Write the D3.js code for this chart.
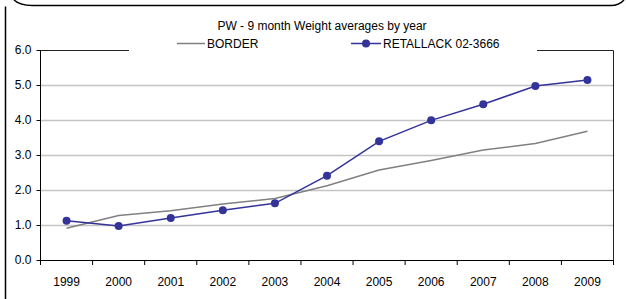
<!DOCTYPE html>
<html><head><meta charset="utf-8">
<script src="https://cdn.jsdelivr.net/npm/d3@7"></script>
<style>body{margin:0;background:#fff}svg{display:block}text{font-family:"Liberation Sans",Arial,sans-serif}</style>
</head><body>
<svg id="c" width="626" height="299"></svg>
<script>
const years = ["1999","2000","2001","2002","2003","2004","2005","2006","2007","2008","2009"];
const border = [0.91,1.27,1.41,1.6,1.76,2.12,2.57,2.84,3.14,3.33,3.68];
const retallack = [1.12,0.97,1.2,1.42,1.62,2.41,3.39,3.99,4.45,4.97,5.14];
const yTicks = [0,1,2,3,4,5,6];
const title = "PW - 9 month Weight averages by year";
const seriesNames = ["BORDER","RETALLACK 02-3666"];

const svg = d3.select("#c");
// outer frame pieces
svg.append("path").attr("d","M5.5,299 V6.5").attr("stroke","#000").attr("stroke-width",1.5).attr("fill","none");
svg.append("path").attr("d","M14,0 Q20,5.5 32,5.5 H611 Q619,5.5 624,0").attr("stroke","#000").attr("stroke-width",1.5).attr("fill","none");

const L=40.5,R=613.5,T=50,B=260;
const x = d3.scaleBand().domain(years).range([L,R]);
const y = d3.scaleLinear().domain([0,6]).range([B,T]);

// gridlines
svg.append("g").selectAll("line").data(yTicks.filter(d=>d>0&&d<6)).join("line")
  .attr("x1",L).attr("x2",R).attr("y1",d=>y(d)+0.5).attr("y2",d=>y(d)+0.5)
  .attr("stroke","#c4c4c4").attr("stroke-width",1.5);

// plot border top & right
svg.append("path").attr("d",`M${L},${T+0.5} H${R} V${B}`).attr("stroke","#222").attr("stroke-width",1).attr("fill","none");

// y axis
const ya = svg.append("g").attr("transform",`translate(${L},0)`)
  .call(d3.axisLeft(y).tickValues(yTicks).tickFormat(d3.format(".1f")).tickSize(4).tickPadding(5));
ya.select(".domain").attr("stroke","#000").attr("d",`M0,${T}V${B}`);
ya.selectAll("line").attr("stroke","#000");
ya.selectAll("text").attr("font-size",12).attr("fill","#000").attr("font-family","Liberation Sans, Arial");

// x axis
const xa = svg.append("g").attr("transform",`translate(0,${B+0.5})`)
  .call(d3.axisBottom(x).tickSize(0).tickPadding(17));
xa.select(".domain").attr("stroke","#000").attr("d",`M${L},0H${R}`);
xa.selectAll("text").attr("font-size",12).attr("fill","#000").attr("font-family","Liberation Sans, Arial");
svg.append("g").selectAll("line").data(years.map((d,i)=>i).concat([years.length])).join("line")
  .attr("x1",i=>L+x.step()*i).attr("x2",i=>L+x.step()*i).attr("y1",B).attr("y2",B+5)
  .attr("stroke","#000");

const cx = d=>x(d)+x.bandwidth()/2;
const line = d3.line().x((d,i)=>cx(years[i])).y(d=>y(d));
svg.append("path").datum(border).attr("d",line).attr("fill","none").attr("stroke","#808080").attr("stroke-width",1.5);
svg.append("path").datum(retallack).attr("d",line).attr("fill","none").attr("stroke","#333399").attr("stroke-width",1.5);
svg.append("g").selectAll("circle").data(retallack).join("circle")
  .attr("cx",(d,i)=>cx(years[i])).attr("cy",d=>y(d)).attr("r",4).attr("fill","#333399");

// legend box (white) covering top border
svg.append("rect").attr("x",129).attr("y",12).attr("width",408).attr("height",42).attr("fill","#fff");
svg.append("text").attr("x",322).attr("y",30).attr("text-anchor","middle").attr("font-size",12).text(title);
svg.append("line").attr("x1",177).attr("x2",205).attr("y1",43.5).attr("y2",43.5).attr("stroke","#808080").attr("stroke-width",1.5);
svg.append("text").attr("x",207).attr("y",48).attr("font-size",12).text(seriesNames[0]);
svg.append("line").attr("x1",351).attr("x2",381).attr("y1",43.5).attr("y2",43.5).attr("stroke","#333399").attr("stroke-width",1.5);
svg.append("circle").attr("cx",366).attr("cy",43.5).attr("r",4).attr("fill","#333399");
svg.append("text").attr("x",383).attr("y",48).attr("font-size",12).text(seriesNames[1]);
</script>
</body></html>
